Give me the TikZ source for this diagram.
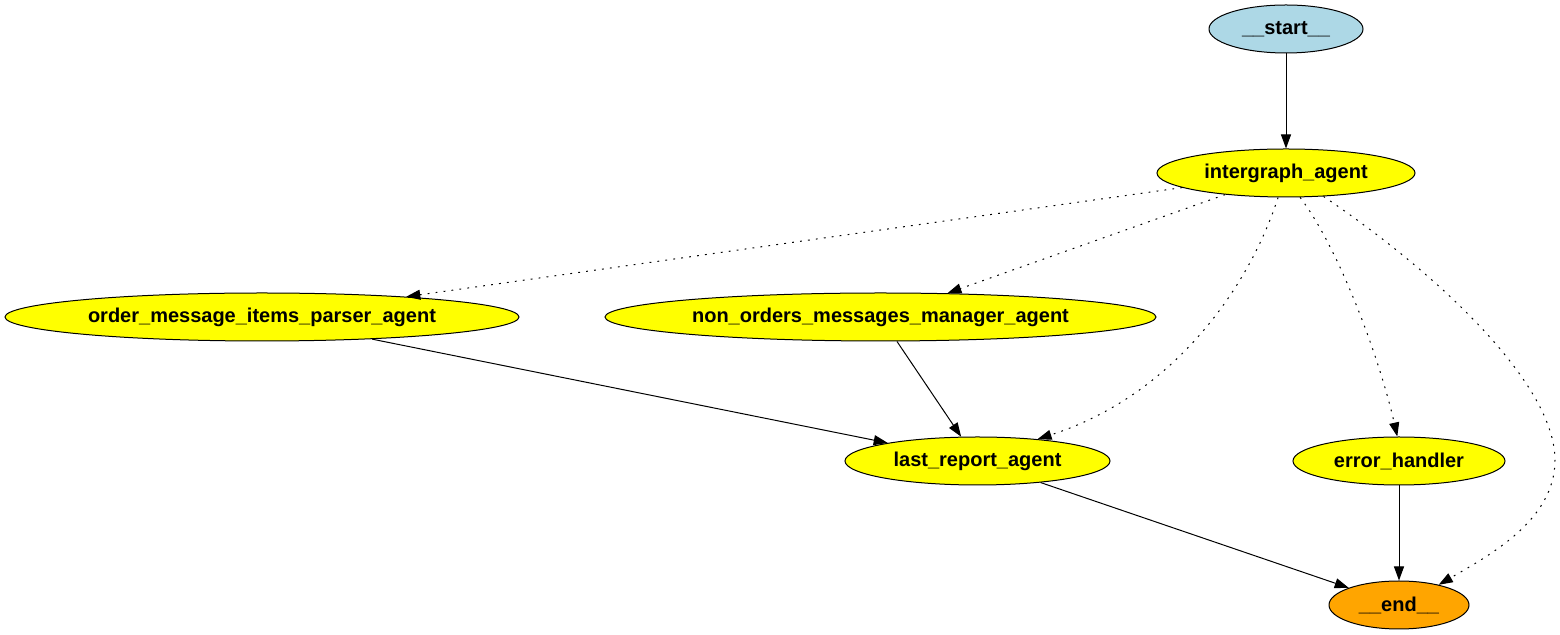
\documentclass[tikz,border=0pt]{standalone}
\usepackage{fontspec}
\setmainfont{Liberation Sans}
\usetikzlibrary{shapes.geometric,arrows.meta}
\definecolor{gvblue}{HTML}{ADD8E6}
\definecolor{gvyellow}{HTML}{FFFF00}
\definecolor{gvorange}{HTML}{FFA500}
\tikzset{
  gnode/.style={ellipse, draw=black, line width=0.5pt, inner sep=0pt, minimum height=24pt,
    font=\fontsize{10}{12}\selectfont\bfseries},
  edge/.style={line width=0.5pt, -{Triangle[length=7pt,width=5pt]}},
  dotedge/.style={edge, dash pattern=on 0.9pt off 3.1pt},
}
\begin{document}
\begin{tikzpicture}[x=0.5pt, y=-0.5pt]
\useasboundingbox (0,0) rectangle (1560,635);
\node[gnode, fill=gvblue, minimum width=77pt] (st) at (1286,29) {\_\_start\_\_};
\node[gnode, fill=gvyellow, minimum width=129pt] (ig) at (1286,173) {intergraph\_agent};
\node[gnode, fill=gvyellow, minimum width=257pt] (op) at (262,317) {order\_message\_items\_parser\_agent};
\node[gnode, fill=gvyellow, minimum width=275.5pt] (no) at (880.5,317) {non\_orders\_messages\_manager\_agent};
\node[gnode, fill=gvyellow, minimum width=132.5pt] (lr) at (977.5,461) {last\_report\_agent};
\node[gnode, fill=gvyellow, minimum width=106pt] (eh) at (1399,461) {error\_handler};
\node[gnode, fill=gvorange, minimum width=70pt] (en) at (1399,605) {\_\_end\_\_};

\draw[edge] (st) -- (ig);
\draw[dotedge] (ig) -- (op);
\draw[dotedge] (ig) -- (no);
\draw[dotedge] (ig.-108) .. controls (1250,285) and (1175,395) .. (lr.20);
\draw[dotedge] (ig.-60) .. controls (1340,250) and (1380,360) .. (eh.94);
\draw[dotedge] (ig.-32) .. controls (1440,275) and (1555,385) .. (1555,460)
  .. controls (1555,520) and (1490,555) .. (en.27);
\draw[edge] (op) -- (lr);
\draw[edge] (no) -- (lr);
\draw[edge] (lr) -- (en);
\draw[edge] (eh) -- (en);
\end{tikzpicture}
\end{document}
